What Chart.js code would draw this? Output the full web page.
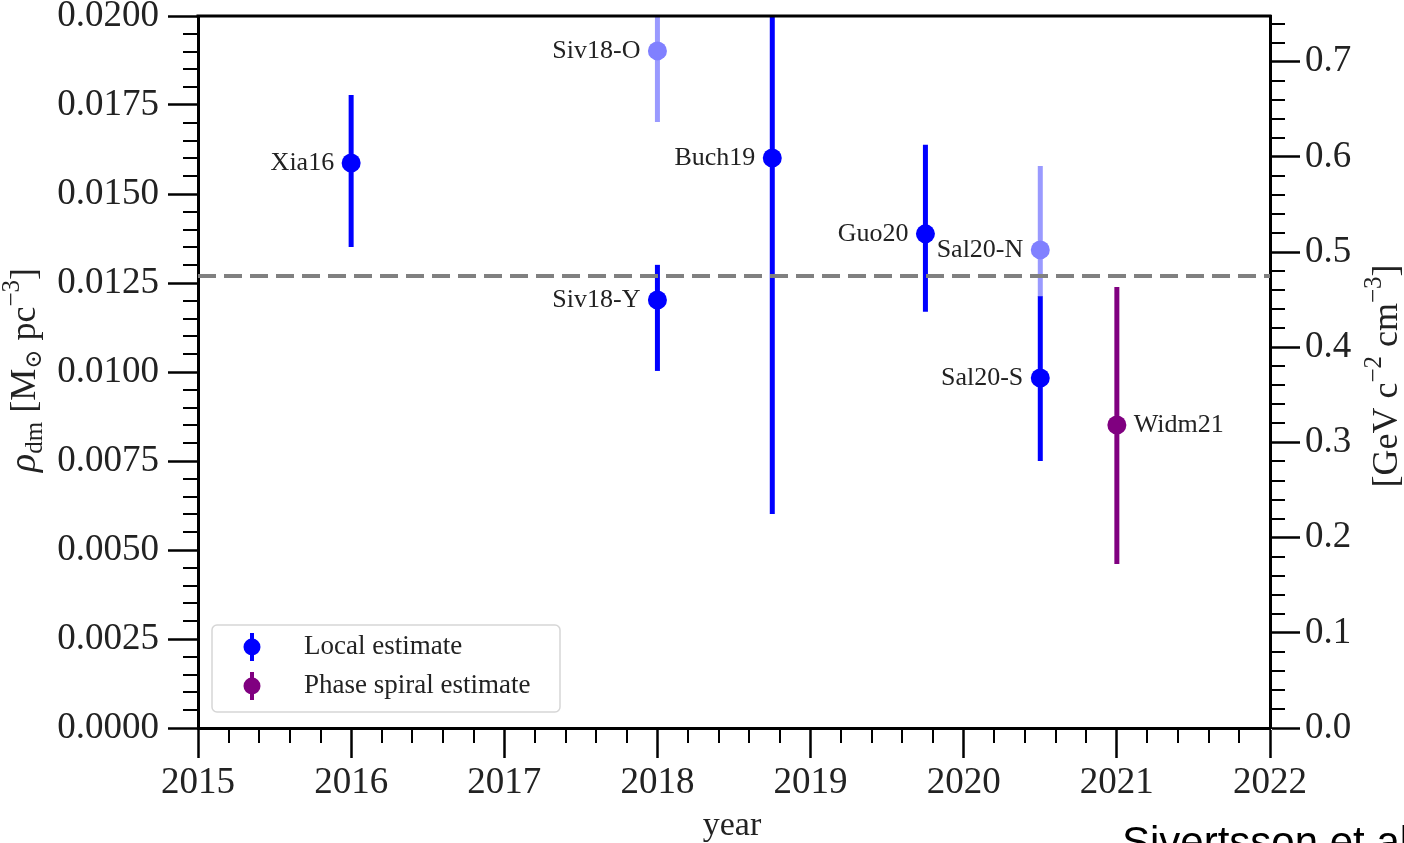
<!DOCTYPE html>
<html>
<head>
<meta charset="utf-8">
<script src="https://cdn.jsdelivr.net/npm/chart.js@4.4.1/dist/chart.umd.min.js"></script>
<style>
  html, body { margin: 0; padding: 0; background: #fff; }
  #wrap { width: 1404px; height: 843px; position: relative; }
</style>
</head>
<body>
<div id="wrap"><canvas id="rhoChart" width="1404" height="843"></canvas></div>
<script>
// measurements, rho_dm in Msun / pc^3
const names = ['Xia16', 'Siv18-O', 'Siv18-Y', 'Buch19', 'Guo20', 'Sal20-N', 'Sal20-S', 'Widm21'];
const years = [2016, 2018, 2018, 2018.75, 2019.75, 2020.5, 2020.5, 2021];
const rho = [0.01587, 0.01902, 0.01202, 0.01601, 0.01388, 0.01343, 0.00983, 0.00851];
const rhoLow = [0.01351, 0.01702, 0.01003, 0.00601, 0.01169, 0.01211, 0.00750, 0.00461];
const rhoHigh = [0.01778, 0.02150, 0.01301, 0.02600, 0.01638, 0.01579, 0.01213, 0.01239];
const kinds = ['local', 'faded', 'local', 'local', 'local', 'faded', 'local', 'spiral'];
const labelSide = ['left', 'left', 'left', 'left', 'left', 'left', 'left', 'right'];
const meanRho = 0.0127;

const xTicks = [2015, 2016, 2017, 2018, 2019, 2020, 2021, 2022];
const yTicks = [0, 0.0025, 0.005, 0.0075, 0.01, 0.0125, 0.015, 0.0175, 0.02];
const y2Ticks = [0, 0.1, 0.2, 0.3, 0.4, 0.5, 0.6, 0.7];
const gevPerMsun = 37.4;   // GeV/cm^3 per Msun/pc^3 as drawn on the right axis

const legendLabels = ['Local estimate', 'Phase spiral estimate'];
const legendKinds = ['local', 'spiral'];

const barColor = { local: '#0000ff', faded: '#9a9aff', spiral: '#800080' };
const dotColor = { local: '#0000ff', faded: '#8080ff', spiral: '#800080' };

const SERIF = '"Liberation Serif", "DejaVu Serif", serif';
const TXT = '#222';

const datasets = [];
names.forEach((n, i) => {
  datasets.push({
    label: n + ' error',
    data: [{ x: years[i], y: rhoLow[i] }, { x: years[i], y: rhoHigh[i] }],
    showLine: true,
    borderColor: barColor[kinds[i]],
    borderWidth: 5,
    borderCapStyle: 'butt',
    pointRadius: 0,
    order: kinds[i] === 'faded' ? 4 : 2
  });
});
datasets.push({
  label: 'mean',
  data: [{ x: xTicks[0], y: meanRho }, { x: xTicks[xTicks.length - 1], y: meanRho }],
  showLine: true,
  borderColor: '#808080',
  borderWidth: 4,
  borderDash: [18, 8],
  pointRadius: 0,
  order: 1
});
names.forEach((n, i) => {
  datasets.push({
    label: n,
    data: [{ x: years[i], y: rho[i] }],
    backgroundColor: dotColor[kinds[i]],
    borderWidth: 0,
    pointRadius: 9.5,
    order: kinds[i] === 'faded' ? 3 : 0
  });
});

function noPad(s) {
  s.paddingTop = 0; s.paddingBottom = 0; s.paddingLeft = 0; s.paddingRight = 0;
}

// minor ticks, point labels, legend, titles
const extras = {
  id: 'extras',
  afterDraw(chart) {
    const ctx = chart.ctx;
    const a = chart.chartArea;
    const sx = chart.scales.x, sy = chart.scales.y, sy2 = chart.scales.y2;
    ctx.save();

    // top frame line
    ctx.strokeStyle = '#000';
    ctx.lineWidth = 3;
    ctx.beginPath();
    ctx.moveTo(a.left - 1.5, a.top);
    ctx.lineTo(a.right + 1.5, a.top);
    ctx.stroke();

    // minor ticks
    ctx.lineWidth = 2;
    ctx.beginPath();
    for (let k = 0; k <= 35; k++) {
      if (k % 5 === 0) continue;
      const px = Math.round(sx.getPixelForValue(2015 + k * 0.2));
      ctx.moveTo(px, a.bottom); ctx.lineTo(px, a.bottom + 15);
    }
    for (let k = 0; k <= 40; k++) {
      if (k % 5 === 0) continue;
      const py = Math.round(sy.getPixelForValue(k * 0.0005));
      ctx.moveTo(a.left - 15, py); ctx.lineTo(a.left, py);
    }
    for (let k = 0; k <= 37; k++) {
      if (k % 5 === 0) continue;
      const py = Math.round(sy2.getPixelForValue(k * 0.02));
      ctx.moveTo(a.right, py); ctx.lineTo(a.right + 15, py);
    }
    ctx.stroke();

    // point labels
    ctx.font = '26px ' + SERIF;
    ctx.fillStyle = TXT;
    ctx.textBaseline = 'middle';
    names.forEach((n, i) => {
      const px = sx.getPixelForValue(years[i]);
      const py = sy.getPixelForValue(rho[i]);
      if (labelSide[i] === 'left') {
        ctx.textAlign = 'right';
        ctx.fillText(n, px - 17, py);
      } else {
        ctx.textAlign = 'left';
        ctx.fillText(n, px + 17, py);
      }
    });

    // legend
    ctx.beginPath();
    ctx.roundRect(212, 625, 348, 87, 5);
    ctx.fillStyle = 'rgba(255,255,255,0.85)';
    ctx.fill();
    ctx.strokeStyle = '#d6d6d6';
    ctx.lineWidth = 1.5;
    ctx.stroke();
    legendLabels.forEach((lab, i) => {
      const ly = 647 + i * 39;
      const c = dotColor[legendKinds[i]];
      ctx.strokeStyle = c;
      ctx.lineWidth = 4;
      ctx.beginPath();
      ctx.moveTo(252, ly - 14); ctx.lineTo(252, ly + 14);
      ctx.stroke();
      ctx.fillStyle = c;
      ctx.beginPath();
      ctx.arc(252, ly, 8.5, 0, Math.PI * 2);
      ctx.fill();
      ctx.fillStyle = TXT;
      ctx.textAlign = 'left';
      ctx.textBaseline = 'middle';
      ctx.font = '27px ' + SERIF;
      ctx.fillText(lab, 304, ly);
    });

    // axis titles
    ctx.fillStyle = TXT;
    ctx.textAlign = 'center';
    ctx.textBaseline = 'alphabetic';
    ctx.font = '34px ' + SERIF;
    ctx.fillText('year', (a.left + a.right) / 2 - 2, 835);

    drawRotated(ctx, 35, 370, [
      { t: 'ρ', size: 38, italic: true },
      { t: 'dm', size: 25, dy: 7 },
      { t: ' [M', size: 36 },
      { t: '⊙', size: 23, dy: 6 },
      { t: ' pc', size: 36 },
      { t: '−3', size: 25, dy: -16 },
      { t: ']', size: 36 }
    ]);
    drawRotated(ctx, 1397, 376, [
      { t: '[GeV c', size: 36 },
      { t: '−2', size: 25, dy: -16 },
      { t: ' cm', size: 36 },
      { t: '−3', size: 25, dy: -16 },
      { t: ']', size: 36 }
    ]);

    // credit
    ctx.font = '42px "Liberation Sans", Arial, sans-serif';
    ctx.fillStyle = '#000';
    ctx.textAlign = 'left';
    ctx.textBaseline = 'alphabetic';
    ctx.fillText('Sivertsson et al.', 1122, 856);

    ctx.restore();
  }
};

function drawRotated(ctx, x, y, parts) {
  let total = 0;
  parts.forEach(p => {
    ctx.font = (p.italic ? 'italic ' : '') + p.size + 'px ' + SERIF;
    p.w = ctx.measureText(p.t).width;
    total += p.w;
  });
  ctx.save();
  ctx.translate(x, y);
  ctx.rotate(-Math.PI / 2);
  ctx.textAlign = 'left';
  ctx.textBaseline = 'alphabetic';
  ctx.fillStyle = TXT;
  let cx = -total / 2;
  parts.forEach(p => {
    ctx.font = (p.italic ? 'italic ' : '') + p.size + 'px ' + SERIF;
    ctx.fillText(p.t, cx, p.dy || 0);
    cx += p.w;
  });
  ctx.restore();
}

const tickFont = { family: SERIF, size: 37 };

new Chart(document.getElementById('rhoChart'), {
  type: 'scatter',
  data: { datasets: datasets },
  options: {
    responsive: false,
    animation: false,
    events: [],
    layout: { padding: { top: 16, left: 0, right: 0, bottom: 0 } },
    plugins: {
      legend: { display: false },
      tooltip: { enabled: false }
    },
    scales: {
      x: {
        type: 'linear',
        min: xTicks[0],
        max: xTicks[xTicks.length - 1],
        afterBuildTicks: s => { s.ticks = xTicks.map(v => ({ value: v })); },
        afterFit: s => { s.height = 115; noPad(s); },
        ticks: { callback: v => String(v), font: tickFont, color: TXT, padding: 3, maxRotation: 0, autoSkip: false },
        grid: { drawOnChartArea: false, tickLength: 30, tickWidth: 2.5, tickColor: '#000' },
        border: { display: true, color: '#000', width: 3 }
      },
      y: {
        position: 'left',
        min: 0,
        max: 0.02,
        afterBuildTicks: s => { s.ticks = yTicks.map(v => ({ value: v })); },
        afterFit: s => { s.width = 198; noPad(s); },
        ticks: { callback: v => v.toFixed(4), font: tickFont, color: TXT, padding: 9 },
        grid: { drawOnChartArea: false, tickLength: 30, tickWidth: 2.5, tickColor: '#000' },
        border: { display: true, color: '#000', width: 3 }
      },
      y2: {
        position: 'right',
        min: 0,
        max: 0.02 * gevPerMsun,
        afterBuildTicks: s => { s.ticks = y2Ticks.map(v => ({ value: v })); },
        afterFit: s => { s.width = 134; noPad(s); },
        ticks: { callback: v => v.toFixed(1), font: tickFont, color: TXT, padding: 5 },
        grid: { drawOnChartArea: false, tickLength: 30, tickWidth: 2.5, tickColor: '#000' },
        border: { display: true, color: '#000', width: 3 }
      }
    }
  },
  plugins: [extras]
});
</script>
</body>
</html>
